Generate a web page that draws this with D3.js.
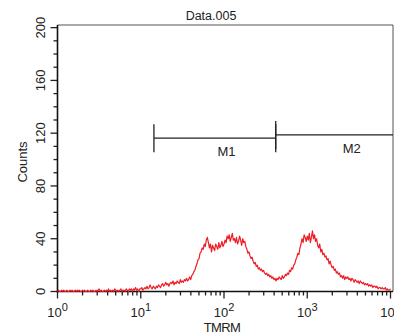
<!DOCTYPE html>
<html>
<head>
<meta charset="utf-8">
<script src="https://cdn.jsdelivr.net/npm/d3@7"></script>
<style>
  body { margin: 0; background: #fff; }
  svg { display: block; font-family: Helvetica, Arial, "Liberation Sans", sans-serif; }
</style>
</head>
<body>
<div id="chart"></div>
<script>
// histogram counts, one per channel, 80 channels per decade from 10^0 to 10^4
const channelsPerDecade = 80;
const counts = [
  // 10^0 - 10^1
  0, 1, 0, 0, 1, 0, 1, 0, 0, 1, 0, 0, 1, 0, 1, 0, 0, 1, 0, 1,
  0, 1, 0, 0, 1, 0, 1, 0, 0, 1, 0, 0, 1, 0, 1, 0, 0, 1, 0, 1,
  2, 0, 1, 0, 0, 1, 0, 1, 0, 2, 0, 1, 0, 1, 0, 2, 1, 0, 1, 0,
  1, 2, 0, 1, 1, 0, 2, 1, 0, 2, 1, 2, 0, 2, 1, 3, 1, 2, 0, 2,
  // 10^1 - 10^2
  2, 3, 1, 2, 3, 2, 4, 2, 3, 5, 3, 2, 4, 3, 2, 4, 3, 5, 4, 3,
  5, 6, 4, 5, 7, 5, 6, 4, 6, 7, 6, 8, 5, 7, 6, 8, 7, 6, 9, 7,
  8, 7, 9, 8, 10, 8, 9, 11, 9, 12, 13, 15, 16, 19, 21, 24, 25, 29, 30, 33,
  32, 36, 34, 39, 41, 37, 33, 36, 30, 35, 33, 31, 36, 34, 32, 37, 33, 35, 38, 34,
  // 10^2 - 10^3
  36, 39, 37, 42, 40, 43, 38, 41, 44, 39, 40, 37, 41, 36, 38, 42, 39, 35, 40, 37,
  38, 34, 32, 29, 30, 27, 25, 26, 23, 21, 22, 19, 20, 17, 18, 16, 17, 15, 16, 14,
  13, 14, 12, 13, 11, 12, 10, 11, 9, 10, 8, 10, 9, 11, 10, 9, 12, 10, 11, 13,
  12, 14, 13, 16, 15, 18, 17, 20, 21, 24, 26, 29, 28, 33, 36, 40, 37, 43, 41, 38,
  // 10^3 - 10^4
  42, 39, 44, 37, 41, 46, 40, 43, 38, 40, 35, 33, 36, 30, 32, 28, 29, 26, 27, 24,
  25, 21, 23, 20, 18, 19, 16, 17, 14, 15, 13, 14, 11, 12, 10, 12, 9, 11, 10, 11,
  9, 10, 8, 10, 9, 7, 9, 8, 7, 8, 6, 8, 7, 6, 7, 5, 6, 5, 6, 4,
  5, 4, 5, 3, 4, 4, 3, 4, 2, 3, 3, 2, 3, 2, 2, 3, 1, 2, 1, 1,
  2
];

const markerNames = ['M1', 'M2'];
const markerLow = [14.4, 418];
const markerHigh = [418, 10000];
const markerLevel = [116.2, 118.7];
const markerLabelAt = [107, 3420];

const yTicks = [0, 40, 80, 120, 160, 200];
const xDecades = [1, 10, 100, 1000, 10000];
const titleText = 'Data.005';
const xTitle = 'TMRM';
const yTitle = 'Counts';

const config = {
  width: 394, height: 335,
  left: 57.5, right: 390.5, top: 25, bottom: 291.5, frameRight: 393
};

const svg = d3.select('#chart').append('svg')
  .attr('width', config.width)
  .attr('height', config.height);

const x = d3.scaleLog().domain([1, 10000]).range([config.left, config.right]);
const y = d3.scaleLinear().domain([0, 202]).range([config.bottom, config.top]);

// frame top and right
svg.append('path')
  .attr('d', `M${config.left},${config.top}H${config.frameRight}V${config.bottom}`)
  .attr('fill', 'none')
  .attr('stroke', '#555')
  .attr('stroke-width', 1);

// y axis
const yMinor = d3.range(0, 201, 10).filter(v => v % 40 !== 0);
const yAxis = svg.append('g').attr('class', 'y-axis');
yAxis.selectAll('.minor').data(yMinor).join('line')
  .attr('x1', config.left - 4).attr('x2', config.left)
  .attr('y1', d => y(d)).attr('y2', d => y(d))
  .attr('stroke', '#222').attr('stroke-width', 1.3);
yAxis.selectAll('.major').data(yTicks).join('line')
  .attr('x1', config.left - 7).attr('x2', config.left)
  .attr('y1', d => y(d)).attr('y2', d => y(d))
  .attr('stroke', '#222').attr('stroke-width', 1.3);
yAxis.selectAll('text').data(yTicks).join('text')
  .attr('transform', d => `translate(44.5,${y(d)}) rotate(-90)`)
  .attr('text-anchor', 'middle')
  .attr('font-size', 13)
  .attr('fill', '#222')
  .text(d => d);
yAxis.append('line')
  .attr('x1', config.left).attr('x2', config.left)
  .attr('y1', config.top).attr('y2', config.bottom + 0.75)
  .attr('stroke', '#111').attr('stroke-width', 1.6);

// x axis
const xMinor = [];
xDecades.slice(0, -1).forEach(d => { for (let k = 2; k < 10; k++) xMinor.push(d * k); });
const xAxis = svg.append('g').attr('class', 'x-axis');
xAxis.selectAll('.minor').data(xMinor).join('line')
  .attr('x1', d => x(d)).attr('x2', d => x(d))
  .attr('y1', config.bottom).attr('y2', config.bottom + 4)
  .attr('stroke', '#222').attr('stroke-width', 1.3);
xAxis.selectAll('.major').data(xDecades).join('line')
  .attr('x1', d => x(d)).attr('x2', d => x(d))
  .attr('y1', config.bottom).attr('y2', config.bottom + 7)
  .attr('stroke', '#222').attr('stroke-width', 1.3);
const xLabels = xAxis.selectAll('text').data(xDecades).join('text')
  .attr('x', d => x(d))
  .attr('y', 316.5)
  .attr('text-anchor', 'middle')
  .attr('font-size', 13)
  .attr('fill', '#222');
xLabels.append('tspan').text('10');
xLabels.append('tspan')
  .attr('dy', -5.5)
  .attr('font-size', 11)
  .text(d => Math.round(Math.log10(d)));
xAxis.append('line')
  .attr('x1', config.left - 0.8).attr('x2', config.frameRight)
  .attr('y1', config.bottom).attr('y2', config.bottom)
  .attr('stroke', '#111').attr('stroke-width', 1.6);

// histogram trace
const line = d3.line()
  .x((d, i) => x(Math.pow(10, i / channelsPerDecade)))
  .y(d => y(d));
svg.append('path')
  .datum(counts)
  .attr('d', line)
  .attr('fill', 'none')
  .attr('stroke', '#ee1c24')
  .attr('stroke-width', 1.2)
  .attr('stroke-linejoin', 'round');

// markers
const markers = markerNames.map((name, i) => ({
  name, lo: markerLow[i], hi: markerHigh[i], level: markerLevel[i], labelAt: markerLabelAt[i]
}));
const mg = svg.selectAll('.marker').data(markers).join('g').attr('class', 'marker');
mg.append('path')
  .attr('d', d => {
    const x0 = x(d.lo), yy = y(d.level);
    const atEdge = d.hi >= x.domain()[1];
    const x1 = atEdge ? config.frameRight : x(d.hi);
    let p = `M${x0},${yy - 14}V${yy + 14}M${x0},${yy}H${x1}`;
    if (!atEdge) p += `M${x1},${yy - 14}V${yy + 14}`;
    return p;
  })
  .attr('fill', 'none')
  .attr('stroke', '#222')
  .attr('stroke-width', 1.3);
mg.append('text')
  .attr('x', d => x(d.labelAt))
  .attr('y', d => y(d.level) + 18)
  .attr('text-anchor', 'middle')
  .attr('font-size', 13)
  .attr('fill', '#222')
  .text(d => d.name);

// titles
svg.append('text')
  .attr('x', 211).attr('y', 20)
  .attr('text-anchor', 'middle')
  .attr('font-size', 12.5)
  .attr('fill', '#222')
  .text(titleText);
svg.append('text')
  .attr('x', 222).attr('y', 331.5)
  .attr('text-anchor', 'middle')
  .attr('font-size', 13)
  .attr('letter-spacing', -0.6)
  .attr('fill', '#222')
  .text(xTitle);
svg.append('text')
  .attr('transform', 'translate(27,162) rotate(-90)')
  .attr('text-anchor', 'middle')
  .attr('font-size', 13)
  .attr('fill', '#222')
  .text(yTitle);
</script>
</body>
</html>
